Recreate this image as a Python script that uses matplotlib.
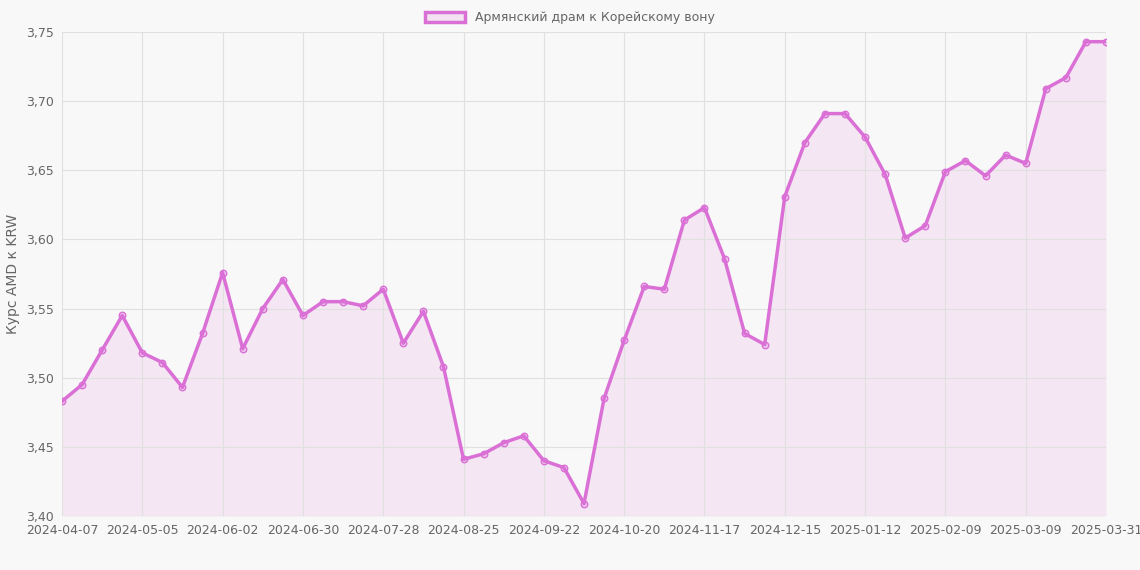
import numpy as np
import pandas as pd
import matplotlib
matplotlib.use("Agg")
import matplotlib.pyplot as plt
from matplotlib.patches import Patch

dates = [d.strftime("%Y-%m-%d") for d in pd.date_range("2024-04-07", periods=52, freq="7D")] + ["2025-03-31"]
values = [3.483, 3.495, 3.520, 3.545, 3.518, 3.511, 3.493, 3.532, 3.576, 3.521,
          3.550, 3.571, 3.545, 3.555, 3.555, 3.552, 3.564, 3.525, 3.548, 3.508,
          3.441, 3.445, 3.453, 3.458, 3.440, 3.435, 3.409, 3.485, 3.527, 3.566,
          3.564, 3.614, 3.623, 3.586, 3.532, 3.524, 3.631, 3.670, 3.691, 3.691,
          3.674, 3.647, 3.601, 3.610, 3.649, 3.657, 3.646, 3.661, 3.655, 3.709,
          3.717, 3.743, 3.743]
yticks = [3.40, 3.45, 3.50, 3.55, 3.60, 3.65, 3.70, 3.75]

LINE = "#DA70D6"
BG = "#f8f8f8"

fig = plt.figure(figsize=(11.4, 5.7), dpi=100, facecolor=BG)
ax = fig.add_axes([62 / 1140, 1 - 516 / 570, 1044 / 1140, 484 / 570])
ax.set_facecolor(BG)

x = np.arange(len(values))
ax.fill_between(x, values, 3.40, color=LINE, alpha=0.12, linewidth=0)
ax.plot(x, values, color=LINE, linewidth=2.5, zorder=3)
ax.scatter(x, values, s=22, facecolor=(218/255, 112/255, 214/255, 0.3),
           edgecolor=LINE, linewidth=1, zorder=4)

ax.set_xlim(0, len(values) - 1)
ax.set_ylim(3.40, 3.75)
tick_idx = list(range(0, len(values) - 1, 4)) + [len(values) - 1]
ax.set_xticks(tick_idx)
ax.set_xticklabels([dates[i] for i in tick_idx])
ax.set_yticks(yticks)
ax.set_yticklabels([f"{v:.2f}".replace(".", ",") for v in yticks])
ax.grid(True, color="#e0e0e0", linewidth=0.8)
ax.tick_params(colors="#666666", labelsize=9, length=0, pad=6)
for sp in ax.spines.values():
    sp.set_visible(False)
ax.set_ylabel("Курс AMD к KRW", color="#666666", fontsize=10)

fig.legend(handles=[Patch(facecolor=(218/255, 112/255, 214/255, 0.15), edgecolor=LINE, linewidth=2.5,
                          label="Армянский драм к Корейскому вону")],
           loc="upper center", bbox_to_anchor=(0.5, 1.0), frameon=False,
           fontsize=9, labelcolor="#666666", handlelength=3.2, handleheight=0.9)

fig.savefig("out.png", dpi=100, facecolor=BG)
